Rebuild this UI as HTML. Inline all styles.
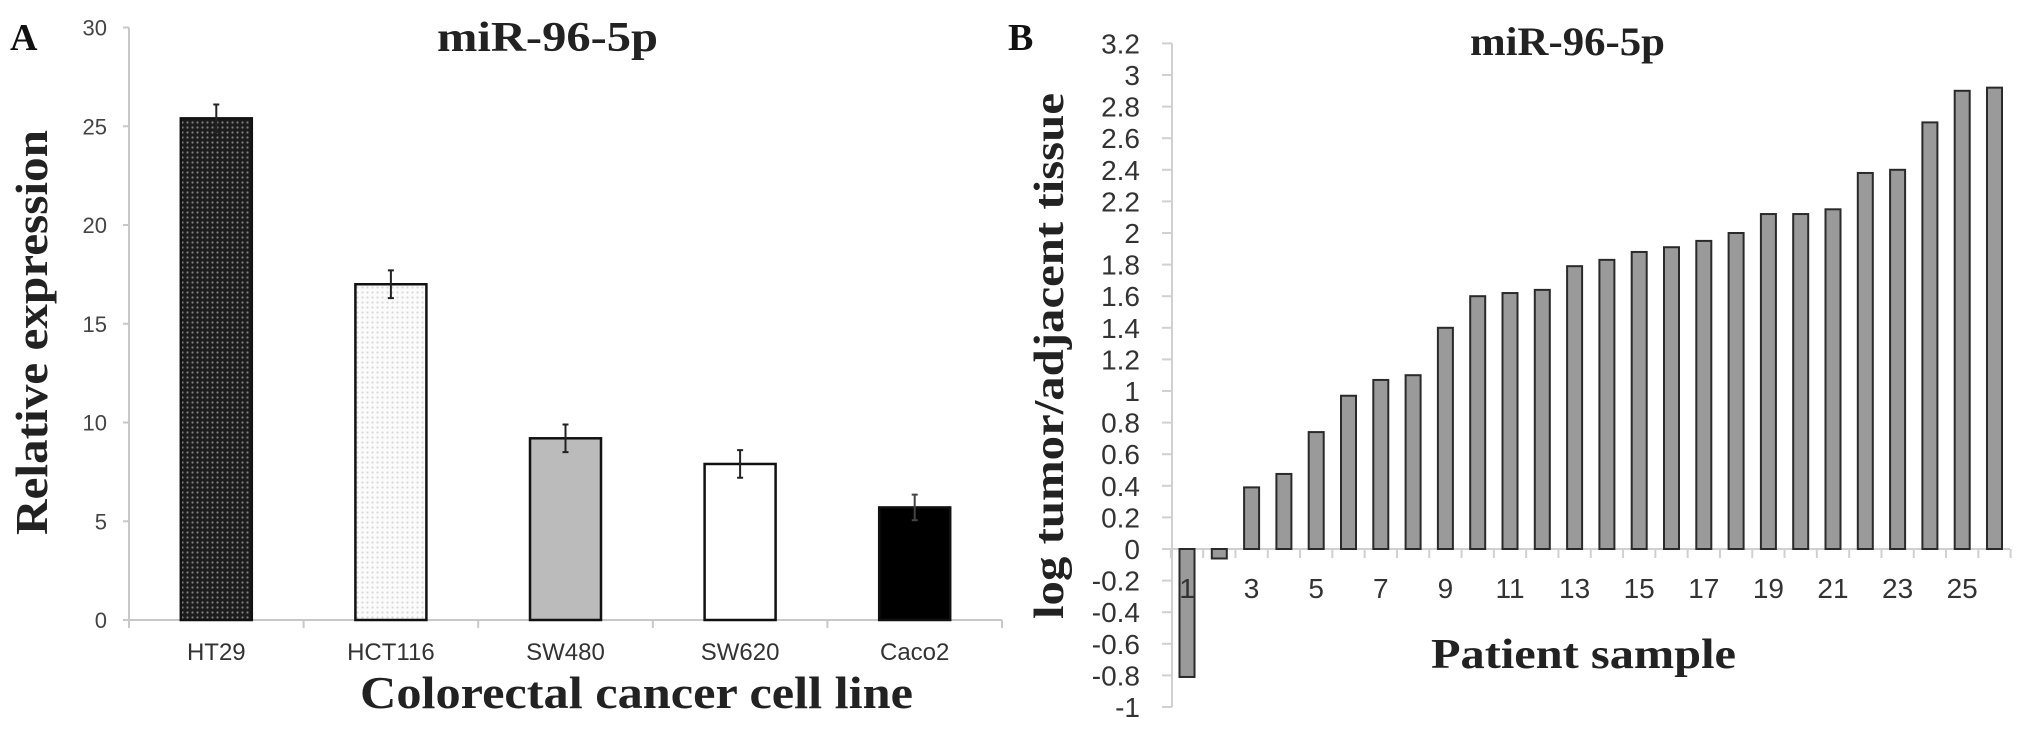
<!DOCTYPE html>
<html><head><meta charset="utf-8"><style>
html,body{margin:0;padding:0;background:#fff;}
svg{display:block;}
</style></head><body>
<svg id="fig" width="2031" height="732" viewBox="0 0 2031 732" xmlns="http://www.w3.org/2000/svg">
<defs>
<pattern id="dark" width="5" height="5" patternUnits="userSpaceOnUse"><rect width="5" height="5" fill="#1c1c1c"/><circle cx="2.5" cy="2.5" r="1.1" fill="#808080"/></pattern>
<pattern id="light" width="5" height="5" patternUnits="userSpaceOnUse"><rect width="5" height="5" fill="#fbfbfb"/><circle cx="2.5" cy="2.5" r="1.1" fill="#d8d8d8"/></pattern>
</defs>
<g id="panelA"></g>
<g id="panelB"></g>
</svg>
<script>
// Panel A data
const cellLines = ["HT29","HCT116","SW480","SW620","Caco2"];
const expression = [25.4, 17.0, 9.2, 7.9, 5.7];
const expressionErr = [0.7, 0.7, 0.7, 0.7, 0.65];
const yTicksA = [0,5,10,15,20,25,30];
const fillsA = ["url(#dark)","url(#light)","#bbbbbb","#ffffff","#000000"];
// Panel B data
const patients = [1,2,3,4,5,6,7,8,9,10,11,12,13,14,15,16,17,18,19,20,21,22,23,24,25,26];
const logRatio = [-0.81,-0.06,0.39,0.475,0.74,0.97,1.07,1.10,1.40,1.60,1.62,1.64,1.79,1.83,1.88,1.91,1.95,2.00,2.12,2.12,2.15,2.38,2.40,2.70,2.90,2.92];
const yTicksB = [-1,-0.8,-0.6,-0.4,-0.2,0,0.2,0.4,0.6,0.8,1,1.2,1.4,1.6,1.8,2,2.2,2.4,2.6,2.8,3,3.2];
const xLabelsB = ["1","3","5","7","9","11","13","15","17","19","21","23","25"];

const NS="http://www.w3.org/2000/svg";
function mk(parent,tag,attrs,text){const e=document.createElementNS(NS,tag);for(const k in attrs)e.setAttribute(k,attrs[k]);if(text!==undefined)e.textContent=text;parent.appendChild(e);return e;}

// ---- Panel A ----
const gA=document.getElementById('panelA');
const axA={x0:129,x1:1002,y0:620,scale:19.75};
const yA=v=>axA.y0-v*axA.scale;
const stepA=(axA.x1-axA.x0)/cellLines.length;
const xA=i=>axA.x0+stepA*(i+0.5);
let e;
e=mk(gA,'text',{x:10,y:50,'font-family':'Liberation Serif, serif','font-weight':'bold','font-size':38,fill:'#111'},'A');


e=mk(gA,'text',{x:437,y:51,'font-family':'Liberation Serif, serif','font-weight':'bold','font-size':42,fill:'#222',textLength:221,lengthAdjust:'spacingAndGlyphs'},'miR-96-5p');


e=mk(gA,'line',{x1:axA.x0,y1:yA(30),x2:axA.x0,y2:axA.y0,stroke:'#c8c8c8','stroke-width':2});


yTicksA.forEach(t=>{
  const l=mk(gA,'line',{x1:axA.x0-6,y1:yA(t),x2:axA.x0,y2:yA(t),stroke:'#c8c8c8','stroke-width':2});
  
  
  const tx=mk(gA,'text',{x:107,y:yA(t)+8,'text-anchor':'end','font-family':'Liberation Sans, sans-serif','font-size':22,fill:'#444'},String(t));
  
  
});
e=mk(gA,'line',{x1:axA.x0,y1:axA.y0,x2:axA.x1,y2:axA.y0,stroke:'#c8c8c8','stroke-width':2});


for(let i=0;i<=cellLines.length;i++){
  const l=mk(gA,'line',{x1:axA.x0+stepA*i,y1:axA.y0,x2:axA.x0+stepA*i,y2:axA.y0+8,stroke:'#c8c8c8','stroke-width':2});
  
  
}
const bwA=71;
cellLines.forEach((c,i)=>{
  const v=expression[i];
  const r=mk(gA,'rect',{x:xA(i)-bwA/2,y:yA(v),width:bwA,height:axA.y0-yA(v),fill:fillsA[i],stroke:'#111','stroke-width':2.5});
  
  
  const err=expressionErr[i];
  const eb=mk(gA,'path',{d:`M${xA(i)} ${yA(v+err)} V${yA(v-err)} M${xA(i)-3} ${yA(v+err)} H${xA(i)+3} M${xA(i)-3} ${yA(v-err)} H${xA(i)+3}`,stroke:i===4?'#444':'#222','stroke-width':2,fill:'none'});
  
  
  const tx=mk(gA,'text',{x:xA(i),y:660,'text-anchor':'middle','font-family':'Liberation Sans, sans-serif','font-size':24,fill:'#333'},c);
  
  
});
e=mk(gA,'text',{x:360,y:708,'font-family':'Liberation Serif, serif','font-weight':'bold','font-size':46,fill:'#222',textLength:553,lengthAdjust:'spacingAndGlyphs'},'Colorectal cancer cell line');


e=mk(gA,'text',{x:0,y:0,transform:'translate(47,535) rotate(-90)','font-family':'Liberation Serif, serif','font-weight':'bold','font-size':46,fill:'#222',textLength:405,lengthAdjust:'spacingAndGlyphs'},'Relative expression');



// ---- Panel B ----
const gB=document.getElementById('panelB');
const axB={x0:1172,x1:2010,y0:549,scale:158};
const yB=v=>axB.y0-v*axB.scale;
const stepB=32.3;
const xB=i=>1187+stepB*i;
e=mk(gB,'text',{x:1008,y:50,'font-family':'Liberation Serif, serif','font-weight':'bold','font-size':38,fill:'#111'},'B');


e=mk(gB,'text',{x:1470,y:55,'font-family':'Liberation Serif, serif','font-weight':'bold','font-size':40,fill:'#222',textLength:195,lengthAdjust:'spacingAndGlyphs'},'miR-96-5p');


e=mk(gB,'line',{x1:axB.x0,y1:yB(3.2),x2:axB.x0,y2:yB(-1),stroke:'#d0d0d0','stroke-width':2});


yTicksB.forEach(t=>{
  const l=mk(gB,'line',{x1:axB.x0-10,y1:yB(t),x2:axB.x0,y2:yB(t),stroke:'#d0d0d0','stroke-width':2});
  
  
  const lab=(Math.round(t*10)/10).toString();
  const tx=mk(gB,'text',{x:1140,y:yB(t)+10,'text-anchor':'end','font-family':'Liberation Sans, sans-serif','font-size':28,fill:'#333'},lab);
  
  
});
e=mk(gB,'line',{x1:axB.x0,y1:axB.y0,x2:axB.x1,y2:axB.y0,stroke:'#d0d0d0','stroke-width':2});


for(let i=0;i<=patients.length;i++){
  const xx=xB(i)-stepB/2;
  const l=mk(gB,'line',{x1:xx,y1:axB.y0,x2:xx,y2:axB.y0+9,stroke:'#d0d0d0','stroke-width':2});
  
  
}
const bwB=15;
patients.forEach((p,i)=>{
  const v=logRatio[i];
  const top=Math.min(yB(v),axB.y0), h=Math.abs(yB(v)-axB.y0);
  const r=mk(gB,'rect',{x:xB(i)-bwB/2,y:top,width:bwB,height:h,fill:'#9a9a9a',stroke:'#2a2a2a','stroke-width':2});
  
  
});
xLabelsB.forEach(s=>{
  const i=parseInt(s)-1;
  const tx=mk(gB,'text',{x:xB(i),y:598,'text-anchor':'middle','font-family':'Liberation Sans, sans-serif','font-size':28,fill:'#333'},s);
  
  
});
e=mk(gB,'text',{x:1431,y:668,'font-family':'Liberation Serif, serif','font-weight':'bold','font-size':42,fill:'#222',textLength:305,lengthAdjust:'spacingAndGlyphs'},'Patient sample');


e=mk(gB,'text',{x:0,y:0,transform:'translate(1063,619) rotate(-90)','font-family':'Liberation Serif, serif','font-weight':'bold','font-size':42,fill:'#222',textLength:526,lengthAdjust:'spacingAndGlyphs'},'log tumor/adjacent tissue');


</script>
</body></html>
